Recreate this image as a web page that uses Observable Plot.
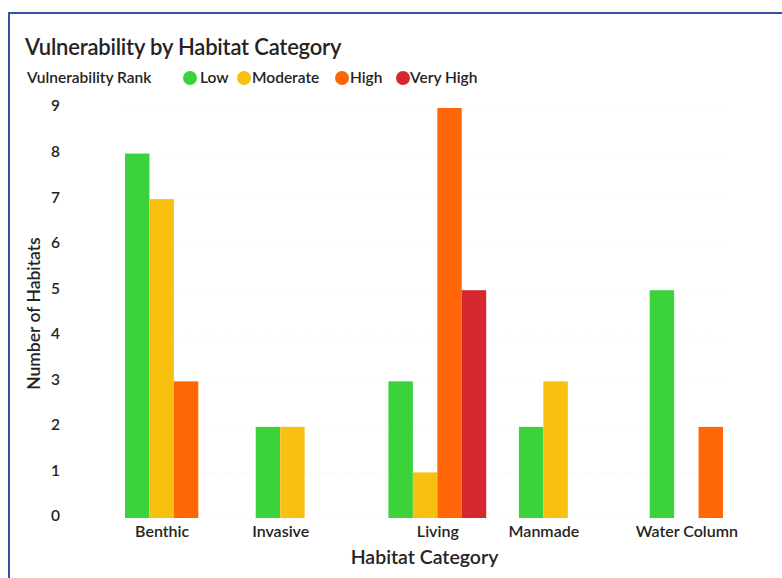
<!DOCTYPE html>
<html>
<head>
<meta charset="utf-8">
<script src="https://cdn.jsdelivr.net/npm/d3@7"></script>
<script src="https://cdn.jsdelivr.net/npm/@observablehq/plot@0.6"></script>
<style>
  html, body { margin: 0; padding: 0; background: #fff; width: 782px; height: 578px; overflow: hidden; }
  body { position: relative; font-family: Lato, "Open Sans", sans-serif; color: #252423; }
  #frame { position: absolute; left: 8px; top: 12px; right: -10px; bottom: -10px;
           border-top: 2px solid #3553a6; border-left: 2px solid #3553a6; }
  #title { position: absolute; left: 25px; top: 33px; font-size: 22px; font-weight: 600; letter-spacing: -0.2px; white-space: nowrap; }
  #legend { position: absolute; left: 27px; top: 68px; font-size: 15.5px; white-space: nowrap; }
  #legend span { position: absolute; top: 0; }
  #legend .dot { width: 14px; height: 14px; border-radius: 50%; top: 3px; }
  #legend .lab { font-weight: 600; }
  #chart { position: absolute; left: 0; top: 90px; }
</style>
</head>
<body>
<div id="frame"></div>
<div id="title">Vulnerability by Habitat Category</div>
<div id="legend"></div>
<div id="chart"></div>
<script>
// ---- data ----
const categories = ["Benthic", "Invasive", "Living", "Manmade", "Water Column"];
const ranks = ["Low", "Moderate", "High", "Very High"];
const low      = [8, 2, 3, 2, 5];
const moderate = [7, 2, 1, 3, 0];
const high     = [3, null, 9, null, 2];
const veryHigh = [null, null, 5, null, null];
const yTicks = [0, 1, 2, 3, 4, 5, 6, 7, 8, 9];

// ---- styling / layout ----
const rankColors = ["#3bd23b", "#f8c10f", "#ff6608", "#d5282f"];
const groupGaps = [0, 2.35, 3.43, 1.34, 3.35]; // spacing before each group, in bar widths

const series = [low, moderate, high, veryHigh];
const rows = [];
const centers = [];
let cursor = 0;
categories.forEach((cat, i) => {
  const start = cursor + groupGaps[i];
  let k = 0;
  ranks.forEach((r, j) => {
    const v = series[j][i];
    if (v === null) return;
    rows.push({category: cat, rank: r, value: v, x1: start + k, x2: start + k + 1});
    k++;
  });
  centers.push({category: cat, x: start + k / 2});
  cursor = start + k;
});

// legend
const legend = document.getElementById("legend");
const legendPos = [[156, 173], [210, 225], [308, 323], [369, 383]];
legend.innerHTML = `<span class="lab" style="left:0">Vulnerability Rank</span>` +
  ranks.map((r, j) =>
    `<span class="dot" style="left:${legendPos[j][0]}px;background:${rankColors[j]}"></span>` +
    `<span class="lab" style="left:${legendPos[j][1]}px">${r}</span>`).join("");

const chart = Plot.plot({
  width: 782,
  height: 488,
  marginLeft: 125,
  marginRight: 59,
  marginTop: 18,
  marginBottom: 60,
  style: {fontFamily: "Lato, 'Open Sans', sans-serif", fontSize: "15px", color: "#252423", background: "transparent"},
  x: {domain: [0, cursor], axis: null},
  y: {domain: [0, 9], ticks: yTicks, label: null},
  color: {domain: ranks, range: rankColors},
  marks: [
    Plot.gridY(yTicks, {stroke: "#d8d8d8", strokeOpacity: 0.5, strokeDasharray: "1,4"}),
    Plot.rectY(rows, {x1: "x1", x2: "x2", y: "value", fill: "rank"}),
    Plot.axisY(yTicks, {tickSize: 0, tickPadding: 70, textAnchor: "middle", dy: -2, fontSize: 15.5, fontWeight: 600,
      label: "Number of Habitats", labelAnchor: "center", labelArrow: "none", labelOffset: 98}),
    Plot.text(centers, {x: "x", text: "category", frameAnchor: "bottom", dy: 18, fontSize: 16, fontWeight: 600, fill: "#252423"}),
    Plot.text(["Habitat Category"], {frameAnchor: "bottom", dy: 45, fontSize: 19.5, fontWeight: 600, fill: "#252423"})
  ]
});
document.getElementById("chart").appendChild(chart);
chart.querySelectorAll("g[aria-label='y-axis label'] text").forEach(t => {
  t.setAttribute("font-size", 17.5); t.setAttribute("font-weight", 600); t.setAttribute("fill", "#252423");
});
</script>
</body>
</html>
